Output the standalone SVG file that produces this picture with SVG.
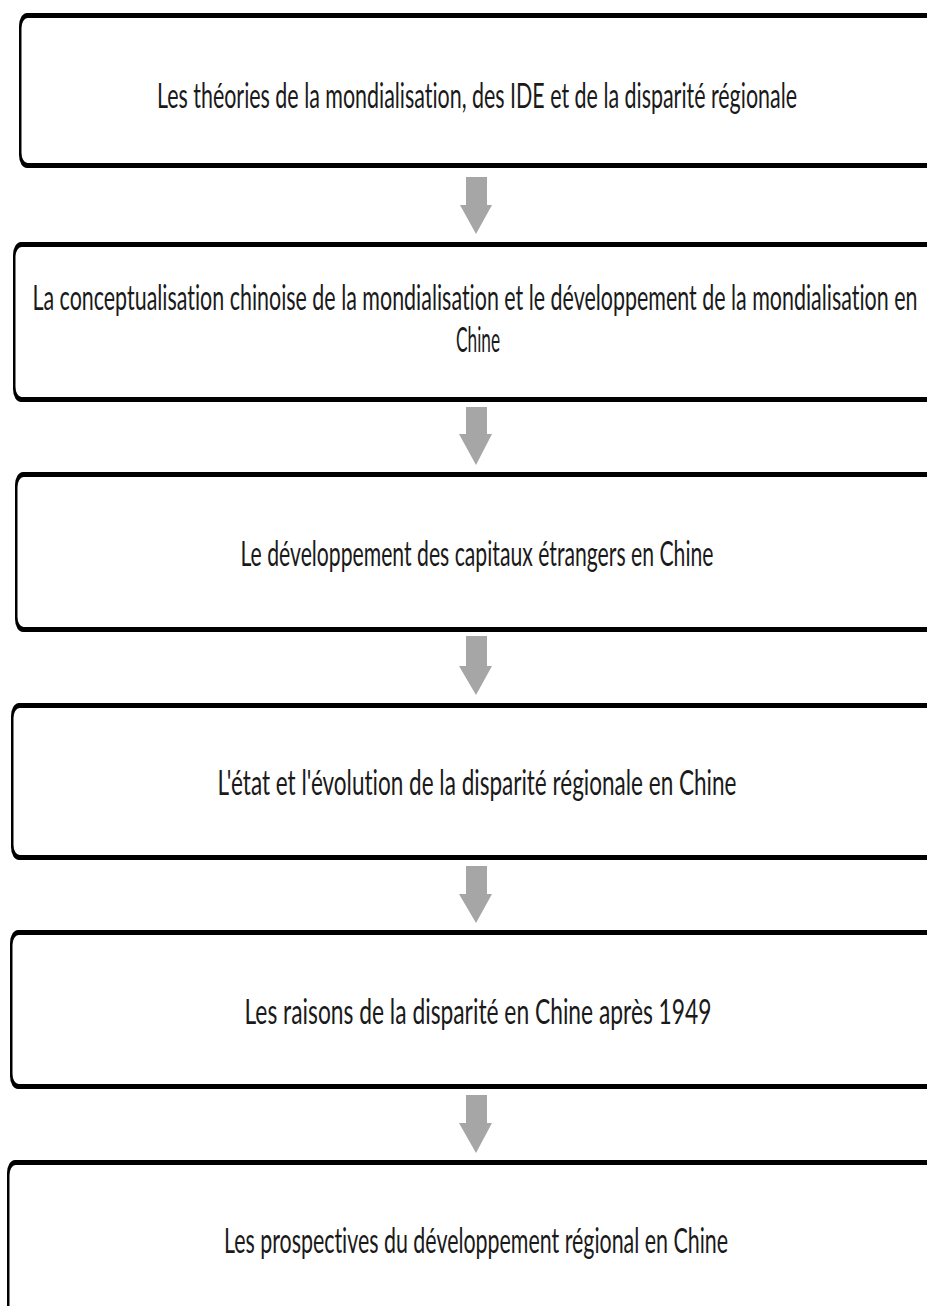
<svg xmlns="http://www.w3.org/2000/svg" width="927" height="1306" viewBox="0 0 927 1306">
<style>
.bo{fill:#000}
.bi{fill:#fff}
.t{font-family:Lato,"Liberation Sans",Arial,sans-serif;font-size:34px;fill:#1a1a1a;text-anchor:middle;font-variant-ligatures:none;font-feature-settings:"liga" 0,"dlig" 0}
.ar{fill:#a6a6a6}
</style>
<rect width="927" height="1306" fill="#fff"/>
<g id="n1">
<rect class="bo" x="19" y="13" width="930" height="155" rx="8" ry="13"/>
<rect class="bi" x="21.5" y="18" width="930" height="145" rx="6" ry="10"/>
<text class="t" transform="scale(0.55,1)" x="867.3" y="108" textLength="1163.6" lengthAdjust="spacingAndGlyphs">Les théories de la mondialisation, des IDE et de la disparité régionale</text>
</g>
<g id="n2">
<rect class="bo" x="13" y="242" width="930" height="160" rx="8" ry="13"/>
<rect class="bi" x="15.5" y="247" width="930" height="150" rx="6" ry="10"/>
<text class="t" transform="scale(0.55,1)" x="863.6" y="310" textLength="1609.1" lengthAdjust="spacingAndGlyphs">La conceptualisation chinoise de la mondialisation et le développement de la mondialisation en</text>
<text class="t" transform="scale(0.55,1)" x="869.1" y="352" textLength="80" lengthAdjust="spacingAndGlyphs">Chine</text>
</g>
<g id="n3">
<rect class="bo" x="15" y="472" width="930" height="160" rx="8" ry="13"/>
<rect class="bi" x="17.5" y="477" width="930" height="150" rx="6" ry="10"/>
<text class="t" transform="scale(0.55,1)" x="867.3" y="566" textLength="860" lengthAdjust="spacingAndGlyphs">Le développement des capitaux étrangers en Chine</text>
</g>
<g id="n4">
<rect class="bo" x="11" y="703" width="930" height="157" rx="8" ry="13"/>
<rect class="bi" x="13.5" y="708" width="930" height="147" rx="6" ry="10"/>
<text class="t" transform="scale(0.55,1)" x="867.3" y="795" textLength="943.6" lengthAdjust="spacingAndGlyphs">L'état et l'évolution de la disparité régionale en Chine</text>
</g>
<g id="n5">
<rect class="bo" x="10" y="930" width="930" height="159" rx="8" ry="13"/>
<rect class="bi" x="12.5" y="935" width="930" height="149" rx="6" ry="10"/>
<text class="t" transform="scale(0.55,1)" x="869.1" y="1024" textLength="849.1" lengthAdjust="spacingAndGlyphs">Les raisons de la disparité en Chine après 1949</text>
</g>
<g id="n6">
<rect class="bo" x="7" y="1160" width="930" height="170" rx="8" ry="13"/>
<rect class="bi" x="9.5" y="1165" width="930" height="170" rx="6" ry="10"/>
<text class="t" transform="scale(0.55,1)" x="865.5" y="1253" textLength="916.4" lengthAdjust="spacingAndGlyphs">Les prospectives du développement régional en Chine</text>
</g>
<g id="connectors">
<polygon class="ar" points="466,177 487,177 487,205 492,205 476,234 460,205 466,205"/>
<polygon class="ar" points="466,407 487,407 487,434 492,434 476,465 459,434 466,434"/>
<polygon class="ar" points="466,636 487,636 487,666 492,666 476,695 459,666 466,666"/>
<polygon class="ar" points="466,866 487,866 487,894 492,894 476,923 459,894 466,894"/>
<polygon class="ar" points="466,1095 487,1095 487,1123 492,1123 476,1153 459,1123 466,1123"/>
</g>
</svg>
